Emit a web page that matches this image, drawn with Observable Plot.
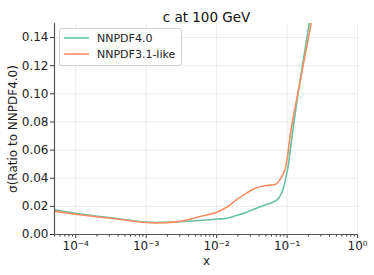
<!DOCTYPE html>
<html>
<head>
<meta charset="utf-8">
<script src="https://cdn.jsdelivr.net/npm/d3@7"></script>
<script src="https://cdn.jsdelivr.net/npm/@observablehq/plot@0.6"></script>
<style>
  body { margin: 0; background: #fff; font-family: "DejaVu Sans", sans-serif; }
  #wrap { position: relative; width: 374px; height: 275px; }
  #legend { position: absolute; left: 59px; top: 28px; width: 121px; height: 36px;
    border: 1px solid #d0d0d0; border-radius: 3px; background: rgba(255,255,255,0.85);
    font-family: "DejaVu Sans", sans-serif; font-size: 11px; color: #222; }
  .item { position: absolute; left: 4px; height: 14px; display: flex; align-items: center; }
  .item svg { margin-right: 8px; }
</style>
</head>
<body>
<div id="wrap"><div id="chart"></div><div id="legend"></div></div>
<script>
const title = "c at 100 GeV";
const yLabel = "σ(Ratio to NNPDF4.0)";
const xLabel = "x";
const seriesNames = ["NNPDF4.0", "NNPDF3.1-like"];
const seriesColors = ["#66c2a5", "#fc8d62"];

const xNNPDF40 = [5e-5, 1e-4, 3.2e-4, 1e-3, 1.6e-3, 3.3e-3, 5.8e-3, 1e-2, 1.4e-2, 1.9e-2, 2.65e-2, 3.67e-2, 5.1e-2, 7.07e-2, 8.3e-2, 9.3e-2, 0.103, 0.109, 0.122, 0.151, 0.179, 0.206, 0.25];
const yNNPDF40 = [0.0176, 0.0151, 0.0118, 0.0088, 0.0086, 0.0092, 0.0099, 0.0109, 0.0116, 0.0135, 0.0159, 0.0187, 0.0213, 0.0242, 0.029, 0.0372, 0.048, 0.057, 0.076, 0.108, 0.131, 0.150, 0.178];

const xNNPDF31 = [5e-5, 1e-4, 3.2e-4, 1e-3, 1.6e-3, 3.3e-3, 5.8e-3, 1e-2, 1.39e-2, 1.9e-2, 2.65e-2, 3.67e-2, 5.1e-2, 7.07e-2, 8.3e-2, 9.3e-2, 0.101, 0.109, 0.122, 0.151, 0.189, 0.222, 0.27];
const yNNPDF31 = [0.0166, 0.0144, 0.0115, 0.0085, 0.0083, 0.0097, 0.0128, 0.0159, 0.0194, 0.0246, 0.0294, 0.0332, 0.0348, 0.036, 0.0407, 0.046, 0.055, 0.068, 0.083, 0.1075, 0.133, 0.152, 0.18];

const xMajor = [1e-4, 1e-3, 1e-2, 1e-1, 1];
const xMajorLabels = ["10⁻⁴", "10⁻³", "10⁻²", "10⁻¹", "10⁰"];
const yTicks = [0, 0.02, 0.04, 0.06, 0.08, 0.10, 0.12, 0.14];
const xDomain = [5e-5, 1.03];
const yDomain = [0, 0.15];

const xMinor = [];
for (let k = -5; k <= -1; k++) for (let m = 2; m <= 9; m++) {
  const v = m * Math.pow(10, k);
  if (v >= xDomain[0] && v <= xDomain[1]) xMinor.push(v);
}

const data = [
  ...xNNPDF40.map((x, i) => ({x, y: yNNPDF40[i], s: seriesNames[0]})),
  ...xNNPDF31.map((x, i) => ({x, y: yNNPDF31[i], s: seriesNames[1]}))
];

const chart = Plot.plot({
  width: 374,
  height: 275,
  marginLeft: 54,
  marginRight: 16,
  marginTop: 23,
  marginBottom: 41,
  style: { fontFamily: "DejaVu Sans, sans-serif", fontSize: "12px", color: "#222", background: "#fff" },
  x: { type: "log", domain: xDomain },
  y: { domain: yDomain },
  color: { domain: seriesNames, range: seriesColors },
  marks: [
    Plot.gridX(xMajor, { stroke: "#e6e6e6", strokeOpacity: 1, strokeWidth: 0.8 }),
    Plot.gridY(yTicks, { stroke: "#e6e6e6", strokeOpacity: 1, strokeWidth: 0.8 }),
    Plot.axisX(xMinor, { tickSize: 2.5, tickFormat: () => "", stroke: "#333", label: null }),
    Plot.axisX(xMajor, { tickSize: 4, tickPadding: 3, stroke: "#333",
      tickFormat: (d) => xMajorLabels[xMajor.indexOf(d)], label: null, fontSize: 12 }),
    Plot.axisY(yTicks, { tickSize: 4, tickPadding: 2, stroke: "#333", tickFormat: d3.format(".2f"),
      label: null, fontSize: 12 }),
    Plot.line(data, { x: "x", y: "y", z: "s", stroke: "s", strokeWidth: 1.6, curve: "catmull-rom", clip: true }),
    Plot.ruleX([xDomain[0]], { stroke: "#555", strokeWidth: 1.2 }),
    Plot.ruleY([0], { stroke: "#555", strokeWidth: 1.2 }),
    Plot.text([title], { frameAnchor: "top", dy: -11, fontSize: 13.5, fill: "#111" }),
    Plot.text([yLabel], { frameAnchor: "left", dx: -41, rotate: -90, textAnchor: "middle", lineAnchor: "middle", fontSize: 12, fill: "#222" }),
    Plot.text([xLabel], { frameAnchor: "bottom", dy: 27, textAnchor: "middle", lineAnchor: "middle", fontSize: 12, fill: "#222" })
  ]
});
document.getElementById("chart").appendChild(chart);

const leg = document.getElementById("legend");
seriesNames.forEach((name, i) => {
  const it = document.createElement("div");
  it.className = "item";
  it.style.top = (2 + i * 16) + "px";
  it.innerHTML = `<svg width="25" height="4"><line x1="0" y1="2" x2="25" y2="2" stroke="${seriesColors[i]}" stroke-width="1.6"/></svg><span>${name}</span>`;
  leg.appendChild(it);
});
</script>
</body>
</html>
